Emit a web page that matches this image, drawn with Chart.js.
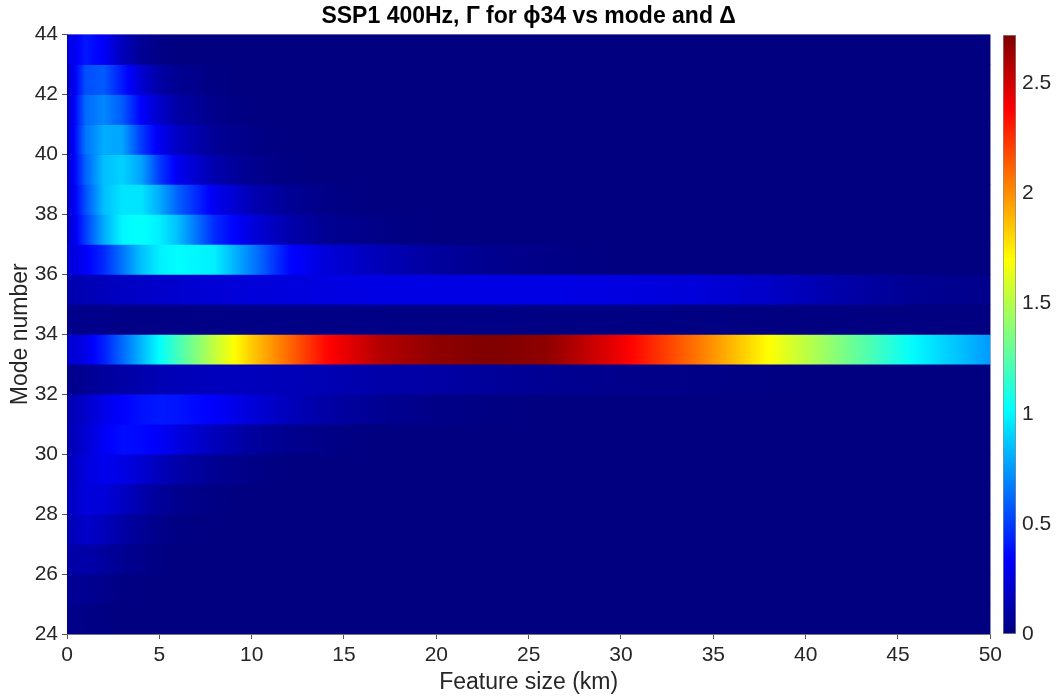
<!DOCTYPE html>
<html>
<head>
<meta charset="utf-8">
<script src="https://cdn.jsdelivr.net/npm/chart.js@4/dist/chart.umd.min.js"></script>
<style>
  body { margin: 0; background: #fff; }
  #main { position: absolute; left: 0; top: 0; width: 1006px; height: 697px; }
  #bar { position: absolute; left: 1003px; top: 0; width: 59px; height: 697px; }
</style>
</head>
<body>
<div id="main"><canvas id="heat"></canvas></div>
<div id="bar"><canvas id="cbar"></canvas></div>
<script>
// feature size samples (km) along each mode row
const featureKm = [0, 1, 2, 3, 4, 5, 6, 8, 10, 12, 14, 17, 20, 23, 26, 30, 34, 38, 42, 46, 50];
const modeNumbers = [25, 26, 27, 28, 29, 30, 31, 32, 33, 34, 35, 36, 37, 38, 39, 40, 41, 42, 43, 44];

// Gamma values per mode, read at featureKm
const mode44 = [0.25, 0.40, 0.32, 0.16, 0.06, 0.02, 0, 0, 0, 0, 0, 0, 0, 0, 0, 0, 0, 0, 0, 0, 0];
const mode43 = [0.15, 0.55, 0.58, 0.40, 0.22, 0.10, 0.05, 0.01, 0, 0, 0, 0, 0, 0, 0, 0, 0, 0, 0, 0, 0];
const mode42 = [0.15, 0.62, 0.70, 0.58, 0.34, 0.20, 0.10, 0.03, 0, 0, 0, 0, 0, 0, 0, 0, 0, 0, 0, 0, 0];
const mode41 = [0.15, 0.65, 0.80, 0.78, 0.50, 0.30, 0.18, 0.06, 0.02, 0, 0, 0, 0, 0, 0, 0, 0, 0, 0, 0, 0];
const mode40 = [0.16, 0.60, 0.85, 0.90, 0.78, 0.50, 0.30, 0.12, 0.04, 0.01, 0, 0, 0, 0, 0, 0, 0, 0, 0, 0, 0];
const mode39 = [0.16, 0.55, 0.85, 0.95, 0.95, 0.80, 0.60, 0.30, 0.14, 0.06, 0.02, 0, 0, 0, 0, 0, 0, 0, 0, 0, 0];
const mode38 = [0.15, 0.50, 0.80, 1.00, 1.03, 0.98, 0.85, 0.45, 0.25, 0.12, 0.05, 0.02, 0, 0, 0, 0, 0, 0, 0, 0, 0];
const mode37 = [0.22, 0.32, 0.45, 0.65, 0.85, 0.98, 1.02, 0.98, 0.68, 0.36, 0.24, 0.15, 0.08, 0.04, 0.02, 0, 0, 0, 0, 0, 0];
const mode36 = [0.12, 0.14, 0.16, 0.18, 0.19, 0.20, 0.21, 0.23, 0.24, 0.25, 0.26, 0.27, 0.27, 0.27, 0.27, 0.26, 0.24, 0.19, 0.11, 0.05, 0.03];
const mode35 = [0.03, 0.03, 0.03, 0.02, 0.02, 0.02, 0.02, 0.02, 0.02, 0.02, 0.02, 0.02, 0.02, 0.02, 0.01, 0.01, 0.01, 0, 0, 0, 0];
const mode34 = [0.20, 0.28, 0.42, 0.62, 0.82, 1.02, 1.20, 1.54, 1.84, 2.10, 2.36, 2.58, 2.68, 2.72, 2.68, 2.42, 2.08, 1.70, 1.35, 1.00, 0.75];
const mode33 = [0.03, 0.05, 0.08, 0.10, 0.12, 0.14, 0.15, 0.16, 0.16, 0.15, 0.14, 0.11, 0.10, 0.07, 0.05, 0.03, 0.02, 0.01, 0, 0, 0];
const mode32 = [0.12, 0.20, 0.28, 0.34, 0.38, 0.40, 0.39, 0.33, 0.24, 0.16, 0.10, 0.05, 0.02, 0.01, 0, 0, 0, 0, 0, 0, 0];
const mode31 = [0.12, 0.22, 0.32, 0.37, 0.36, 0.32, 0.26, 0.16, 0.08, 0.04, 0.02, 0, 0, 0, 0, 0, 0, 0, 0, 0, 0];
const mode30 = [0.14, 0.25, 0.29, 0.27, 0.22, 0.16, 0.11, 0.05, 0.02, 0, 0, 0, 0, 0, 0, 0, 0, 0, 0, 0, 0];
const mode29 = [0.16, 0.25, 0.24, 0.18, 0.12, 0.07, 0.04, 0.01, 0, 0, 0, 0, 0, 0, 0, 0, 0, 0, 0, 0, 0];
const mode28 = [0.13, 0.20, 0.16, 0.10, 0.06, 0.03, 0.01, 0, 0, 0, 0, 0, 0, 0, 0, 0, 0, 0, 0, 0, 0];
const mode27 = [0.10, 0.11, 0.08, 0.05, 0.03, 0.01, 0, 0, 0, 0, 0, 0, 0, 0, 0, 0, 0, 0, 0, 0, 0];
const mode26 = [0.06, 0.05, 0.03, 0.01, 0, 0, 0, 0, 0, 0, 0, 0, 0, 0, 0, 0, 0, 0, 0, 0, 0];
const mode25 = [0.03, 0.02, 0.01, 0, 0, 0, 0, 0, 0, 0, 0, 0, 0, 0, 0, 0, 0, 0, 0, 0, 0];

const gammaRows = [mode25, mode26, mode27, mode28, mode29, mode30, mode31, mode32, mode33, mode34,
                   mode35, mode36, mode37, mode38, mode39, mode40, mode41, mode42, mode43, mode44];

const cMax = 2.72;
const cbarTicks = [0, 0.5, 1, 1.5, 2, 2.5];
const xTicks = [0, 5, 10, 15, 20, 25, 30, 35, 40, 45, 50];
const yTicks = [24, 26, 28, 30, 32, 34, 36, 38, 40, 42, 44];

const FONT = "'Liberation Sans', Arial, Helvetica, sans-serif";
const TXT = '#262626';

// matlab jet
function jet(t) {
  t = Math.max(0, Math.min(1, t));
  const c = v => Math.round(255 * Math.max(0, Math.min(1, v)));
  return 'rgb(' + c(1.5 - Math.abs(4 * t - 3)) + ',' + c(1.5 - Math.abs(4 * t - 2)) + ',' + c(1.5 - Math.abs(4 * t - 1)) + ')';
}

function rowGradient(chart, row) {
  const xs = chart.scales.x;
  const x0 = xs.getPixelForValue(featureKm[0]);
  const x1 = xs.getPixelForValue(featureKm[featureKm.length - 1]);
  if (!isFinite(x0) || !isFinite(x1) || x0 === x1) return jet(0);
  const g = chart.ctx.createLinearGradient(x0, 0, x1, 0);
  const span = featureKm[featureKm.length - 1] - featureKm[0];
  for (let i = 0; i < featureKm.length - 1; i++) {
    const steps = 8;
    for (let k = 0; k < steps; k++) {
      const f = k / steps;
      const x = featureKm[i] + f * (featureKm[i + 1] - featureKm[i]);
      const v = row[i] + f * (row[i + 1] - row[i]);
      g.addColorStop((x - featureKm[0]) / span, jet(v / cMax));
    }
  }
  g.addColorStop(1, jet(row[row.length - 1] / cMax));
  return g;
}

const bgPlugin = {
  id: 'bg',
  beforeDatasetsDraw(chart) {
    const a = chart.chartArea;
    chart.ctx.save();
    chart.ctx.fillStyle = jet(0);
    chart.ctx.fillRect(a.left, a.top, a.right - a.left, a.bottom - a.top);
    chart.ctx.restore();
  }
};

new Chart(document.getElementById('heat'), {
  type: 'bar',
  data: {
    datasets: [{
      data: modeNumbers.map(m => ({ y: m - 0.5, x: [featureKm[0], featureKm[featureKm.length - 1]] })),
      backgroundColor: (c) => {
        if (c.type !== 'data' || !c.chart.chartArea || !c.chart.scales.x) return jet(0);
        return rowGradient(c.chart, gammaRows[c.dataIndex]);
      },
      borderWidth: 0,
      barPercentage: 1,
      categoryPercentage: 1
    }]
  },
  options: {
    indexAxis: 'y',
    responsive: true,
    maintainAspectRatio: false,
    animation: false,
    events: [],
    layout: { padding: { left: 0, right: 0, top: 0, bottom: 0 } },
    plugins: {
      legend: { display: false },
      tooltip: { enabled: false },
      title: {
        display: true,
        fullSize: false,
        text: 'SSP1 400Hz, Γ for ϕ34 vs mode and Δ',
        color: '#000',
        font: { family: FONT, size: 23, weight: 'bold' },
        padding: { top: 3, bottom: 4 }
      }
    },
    scales: {
      x: {
        type: 'linear',
        min: 0, max: 50,
        afterBuildTicks: s => { s.ticks = xTicks.map(v => ({ value: v })); },
        afterFit: s => { s.height = 63; },
        ticks: { color: TXT, font: { family: FONT, size: 21 }, padding: 4, maxRotation: 0 },
        grid: { drawOnChartArea: false, tickLength: 5, tickColor: '#555' },
        border: { display: true, color: '#777', width: 1 },
        title: { display: true, text: 'Feature size (km)', color: TXT, font: { family: FONT, size: 23 }, padding: { top: 0, bottom: 1 } }
      },
      y: {
        type: 'linear',
        min: 24, max: 44,
        offset: false,
        afterBuildTicks: s => { s.ticks = yTicks.map(v => ({ value: v })); },
        afterFit: s => { s.width = 67; },
        ticks: { color: TXT, font: { family: FONT, size: 21 }, padding: 4 },
        grid: { offset: false, drawOnChartArea: false, tickLength: 5, tickColor: '#555' },
        border: { display: true, color: '#777', width: 1 },
        title: { display: true, text: 'Mode number', color: TXT, font: { family: FONT, size: 23 }, padding: { top: 7, bottom: 0 } }
      }
    }
  },
  plugins: [bgPlugin]
});

// colorbar
function barGradient(chart) {
  const ys = chart.scales.y;
  const y0 = ys.getPixelForValue(0), y1 = ys.getPixelForValue(cMax);
  if (!isFinite(y0) || !isFinite(y1) || y0 === y1) return jet(0);
  const g = chart.ctx.createLinearGradient(0, y0, 0, y1);
  for (let i = 0; i <= 64; i++) g.addColorStop(i / 64, jet(i / 64));
  return g;
}

new Chart(document.getElementById('cbar'), {
  type: 'bar',
  data: {
    labels: [''],
    datasets: [{
      data: [[0, cMax]],
      backgroundColor: (c) => (c.type === 'data' && c.chart.chartArea && c.chart.scales.y) ? barGradient(c.chart) : jet(0),
      borderWidth: 1,
      borderColor: '#8a8a8a',
      borderSkipped: false,
      barPercentage: 1,
      categoryPercentage: 1
    }]
  },
  options: {
    responsive: true,
    maintainAspectRatio: false,
    animation: false,
    events: [],
    layout: { padding: { left: 0, right: 0, top: 35, bottom: 63 } },
    plugins: { legend: { display: false }, tooltip: { enabled: false } },
    scales: {
      x: { display: false },
      y: {
        position: 'right',
        min: 0, max: cMax,
        afterBuildTicks: s => { s.ticks = cbarTicks.map(v => ({ value: v })); },
        afterFit: s => { s.width = 46; },
        ticks: { color: TXT, font: { family: FONT, size: 21 }, padding: 6, callback: v => String(v) },
        grid: { display: false, drawTicks: false, tickLength: 0 },
        border: { display: false }
      }
    }
  }
});
</script>
</body>
</html>
